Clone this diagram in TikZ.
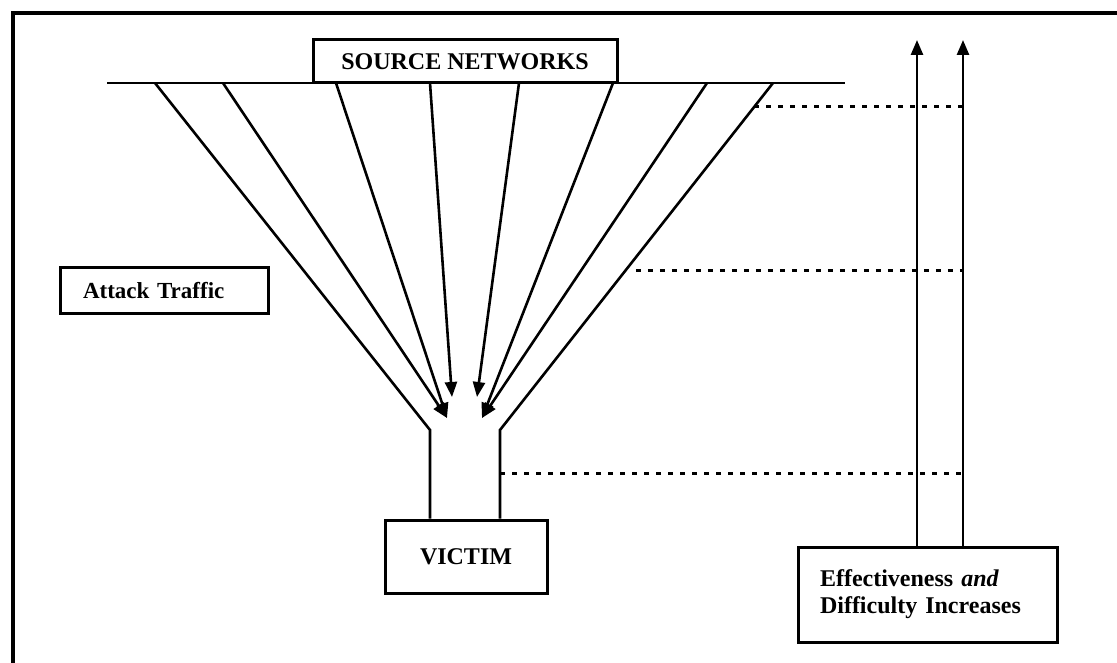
\documentclass[tikz,border=0pt]{standalone}
\usepackage{fontspec}
\setmainfont{Liberation Serif}
\usetikzlibrary{arrows.meta,positioning,calc}

\begin{document}
\begin{tikzpicture}[x=1pt,y=-1pt,
    box/.style={draw,line width=3pt,inner sep=0pt,font=\bfseries\fontsize{24}{27}\selectfont},
    edge/.style={line width=2.6pt},
    flow/.style={line width=2.6pt,-{Triangle[length=15pt,width=12pt]}},
    level/.style={line width=3pt,dash pattern=on 5pt off 7pt}]
    \useasboundingbox (0,0) rectangle (1117,663);

    % Frame
    \draw[line width=4pt] (13,663) -- (13,13) -- (1117,13);

    % Boxes
    \node[box,minimum width=304,minimum height=43] (src) at (465,61.5) {SOURCE NETWORKS};
    \node[box,minimum width=162,minimum height=73] (vic) at (466,556.5) {VICTIM};
    \node[box,minimum height=45,text width=162pt,inner xsep=23pt,align=left,
          font=\bfseries\fontsize{23}{27}\selectfont] (atk) at (164,290.5) {Attack Traffic};
    \node[box,minimum height=95,text width=215pt,inner xsep=22pt,align=left] (eff) at (927.5,594.5)
        {Effectiveness \textit{and}\\Difficulty Increases};

    % Network line
    \coordinate (netL) at (107,83);
    \coordinate (netR) at (845,83);
    \draw[edge] (netL) -- (netR);

    % Funnel
    \coordinate (fL) at (155,83);
    \coordinate (fR) at (773,83);
    \coordinate (neckL) at (430,430);
    \coordinate (neckR) at (500,430);
    \draw[edge] (fL) -- (neckL) -- (neckL |- vic.north);
    \draw[edge] (fR) -- (neckR) -- (neckR |- vic.north);

    % Attack traffic
    \coordinate (lowL) at (447,418);
    \coordinate (upL) at (452,397);
    \coordinate (upR) at (477,397);
    \coordinate (lowR) at (482,418);
    \foreach \x [count=\i] in {223,336,430,519,613,707}
        \coordinate (s\i) at (\x,83);
    \foreach \i/\tip in {1/lowL, 2/lowL, 3/upL, 4/upR, 5/lowR, 6/lowR}
        \draw[flow] (s\i) -- (\tip);

    % Increase arrows
    \coordinate (up1) at (917,40);
    \coordinate (up2) at (963,40);
    \draw[flow] (eff.north -| up1) -- (up1);
    \draw[flow] (eff.north -| up2) -- (up2);

    % Filter levels
    \coordinate (lv1) at ($(fR)!0.069!(neckR)$);
    \coordinate (lv2) at ($(fR)!0.539!(neckR)+(10,0)$);
    \coordinate (lv3) at (500,473);
    \foreach \l in {lv1,lv2,lv3}
        \draw[level] (\l) -- (\l -| up2);
\end{tikzpicture}
\end{document}
